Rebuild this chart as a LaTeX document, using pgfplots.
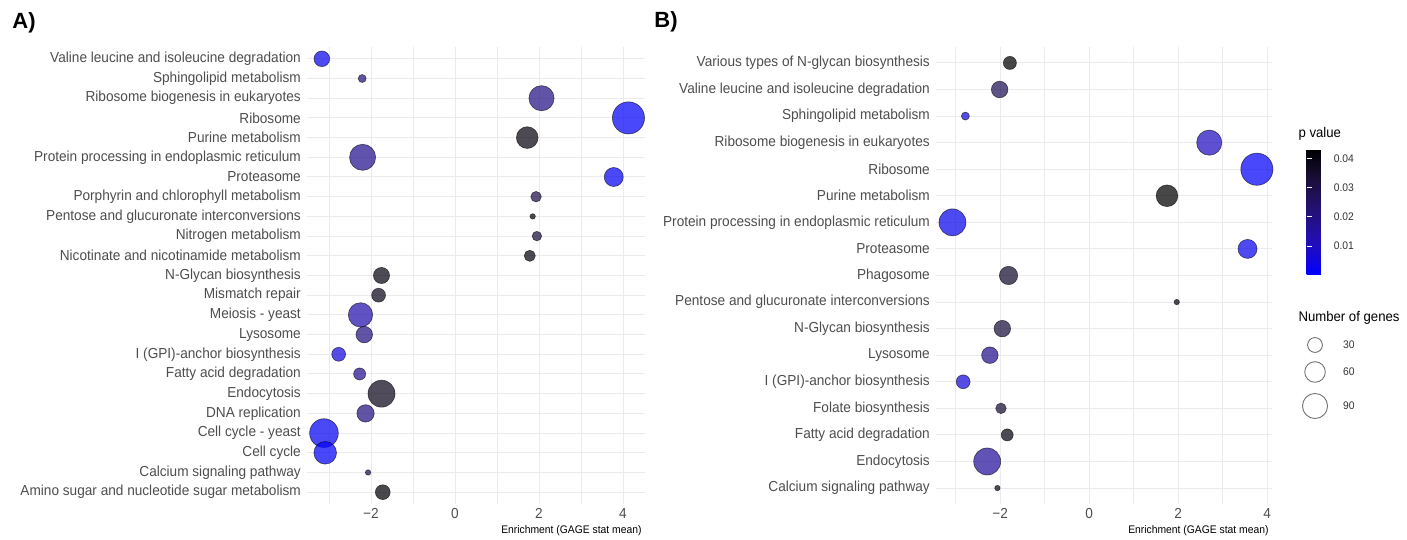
\documentclass[border=0pt]{standalone}
\usepackage{pgfplots}
\pgfplotsset{compat=1.18}
\usepackage{pgfplotstable}
\usepackage{fontspec}
\setmainfont{Liberation Sans}[FakeStretch=0.94]
\newfontfamily\plainf{Liberation Sans}
\definecolor{gridc}{HTML}{EBEBEB}
\definecolor{txt}{HTML}{4D4D4D}

\pgfplotstableread{
x y n p
-3.17 22 34 0.003
-2.21 21 7 0.020
2.06 20 91 0.020
4.13 19 150 0.001
1.72 18 67 0.040
-2.20 17 98 0.018
3.78 16 51 0.002
1.93 15 14 0.030
1.85 14 2 0.040
1.95 13 11 0.032
1.78 12 16 0.040
-1.75 11 36 0.040
-1.82 10 26 0.038
-2.25 9 85 0.013
-2.16 8 38 0.020
-2.77 7 26 0.006
-2.27 6 19 0.018
-1.75 5 105 0.038
-2.13 4 42 0.020
-3.12 3 119 0.002
-3.09 2 73 0.001
-2.07 1 2 0.028
-1.72 0 30 0.042
}\dataA

\pgfplotstableread{
x y n p
-1.78 16 23 0.043
-2.01 15 38 0.028
-2.78 14 7 0.006
2.70 13 91 0.010
3.77 12 150 0.001
1.75 11 67 0.043
-3.07 10 105 0.003
3.56 9 51 0.003
-1.81 8 47 0.035
1.97 7 2 0.040
-1.95 6 38 0.032
-2.23 5 38 0.018
-2.83 4 26 0.006
-1.98 3 14 0.034
-1.84 2 19 0.040
-2.29 1 105 0.016
-2.06 0 2 0.038
}\dataB

\pgfplotstableread{
x y n
25 94 30
25 67 60
25 33 90
}\dataL

\pgfplotsset{
  colormap={pval}{rgb255=(0,0,255) rgb255=(34,14,185) rgb255=(36,17,120) rgb255=(27,15,60) rgb255=(0,0,0)},
  panel/.style={
    scale only axis, height=457pt, ymin=-0.6,
    axis line style={draw=none},
    major tick length=0pt, minor tick length=0pt,
    xtick={-2,0,2,4}, xticklabels={−2,0,2,4},
    minor xtick={-3,-1,1,3},
    xmajorgrids, xminorgrids, ymajorgrids,
    major grid style={gridc, line width=1pt},
    minor grid style={gridc, line width=0.55pt},
    ticklabel style={text=txt, font=\fontsize{14.5}{16}\selectfont},
    xticklabel style={inner ysep=0pt, yshift=-4pt},
    yticklabel style={inner xsep=0pt, xshift=-6pt},
    colormap name=pval,
    point meta min=0.0001, point meta max=0.0432,
  },
  bubble/.style={
    scatter, only marks, mark=*,
    point meta=\thisrow{p},
    scatter/use mapped color={draw=black, fill=mapped color},
    visualization depends on={sqrt(4+1.7*\thisrow{n})\as\msize},
    scatter/@pre marker code/.append style={/tikz/mark size=\msize},
    mark options={fill opacity=0.72, draw opacity=0.6, line width=0.6pt},
  },
}

\begin{document}
\begin{tikzpicture}[x=1pt,y=1pt]
\path (0,0) rectangle (1407,539);

\begin{axis}[panel, name=A, at={(307pt,35pt)}, anchor=south west,
  width=338pt, xmin=-3.524, xmax=4.524, ymax=22.6,
  ytick={0,...,22},
  yticklabels={Amino sugar and nucleotide sugar metabolism,
    Calcium signaling pathway, Cell cycle, Cell cycle - yeast,
    DNA replication, Endocytosis, Fatty acid degradation,
    I (GPI)-anchor biosynthesis, Lysosome, Meiosis - yeast,
    Mismatch repair, N-Glycan biosynthesis,
    Nicotinate and nicotinamide metabolism, Nitrogen metabolism,
    Pentose and glucuronate interconversions,
    Porphyrin and chlorophyll metabolism, Proteasome,
    Protein processing in endoplasmic reticulum, Purine metabolism,
    Ribosome, Ribosome biogenesis in eukaryotes,
    Sphingolipid metabolism, Valine leucine and isoleucine degradation}]
\addplot[bubble] table {\dataA};
\end{axis}

\begin{axis}[panel, name=B, at={(936pt,35pt)}, anchor=south west,
  width=336pt, xmin=-3.44, xmax=4.11, ymax=16.6,
  ytick={0,...,16},
  yticklabels={Calcium signaling pathway, Endocytosis,
    Fatty acid degradation, Folate biosynthesis,
    I (GPI)-anchor biosynthesis, Lysosome, N-Glycan biosynthesis,
    Pentose and glucuronate interconversions, Phagosome, Proteasome,
    Protein processing in endoplasmic reticulum, Purine metabolism,
    Ribosome, Ribosome biogenesis in eukaryotes,
    Sphingolipid metabolism, Valine leucine and isoleucine degradation,
    Various types of N-glycan biosynthesis},
  colorbar,
  colorbar style={
    at={(parent axis.north east)}, anchor=north west,
    xshift=26pt, yshift=-102pt,
    scale only axis, width=25pt, height=126pt,
    scaled y ticks=false,
    ytick={0.01,0.02,0.03,0.04},
    yticklabels={0.01,0.02,0.03,0.04},
    yticklabel style={font=\fontsize{11}{12}\selectfont, text=black!80, inner xsep=0pt, xshift=2pt},
    axis line style={draw=none},
    tick align=inside, major tick length=5pt,
    tick style={draw=white, line width=0.8pt},
    ytick pos=both, yticklabel pos=right,
  }]
\addplot[bubble] table {\dataB};
\end{axis}

% size legend
\begin{axis}[at={(1290pt,100pt)}, anchor=south west, scale only axis,
  width=50pt, height=120pt, xmin=0, xmax=50, ymin=0, ymax=120,
  hide axis, clip=false, colormap name=pval,
  point meta min=0, point meta max=100,
  /pgf/number format/assume math mode=true]
\addplot[scatter, only marks, mark=*, point meta=\thisrow{n},
  scatter/use mapped color={draw=black!55, fill=white},
  visualization depends on={sqrt(4+1.7*\thisrow{n})\as\msize},
  scatter/@pre marker code/.append style={/tikz/mark size=\msize},
  mark options={line width=0.9pt}] table {\dataL};
\addplot[only marks, mark=none, point meta=\thisrow{n},
  nodes near coords, nodes near coords align={anchor=west},
  every node near coord/.append style={xshift=28pt, inner sep=0pt,
    font=\fontsize{11}{12}\selectfont, text=black!80}] table {\dataL};
\end{axis}

\node[anchor=base east, font=\fontsize{11}{12}\selectfont] at (645,5) {Enrichment (GAGE stat mean)};
\node[anchor=base east, font=\fontsize{11}{12}\selectfont] at (1272,5) {Enrichment (GAGE stat mean)};
\node[font=\plainf\bfseries\fontsize{22}{24}\selectfont] at (24,516) {A)};
\node[font=\plainf\bfseries\fontsize{22}{24}\selectfont] at (666,517) {B)};
\node[anchor=west, font=\fontsize{14}{16}\selectfont] at (1295,405) {p value};
\node[anchor=west, font=\fontsize{14}{16}\selectfont] at (1295,221) {Number of genes};
\end{tikzpicture}
\end{document}
